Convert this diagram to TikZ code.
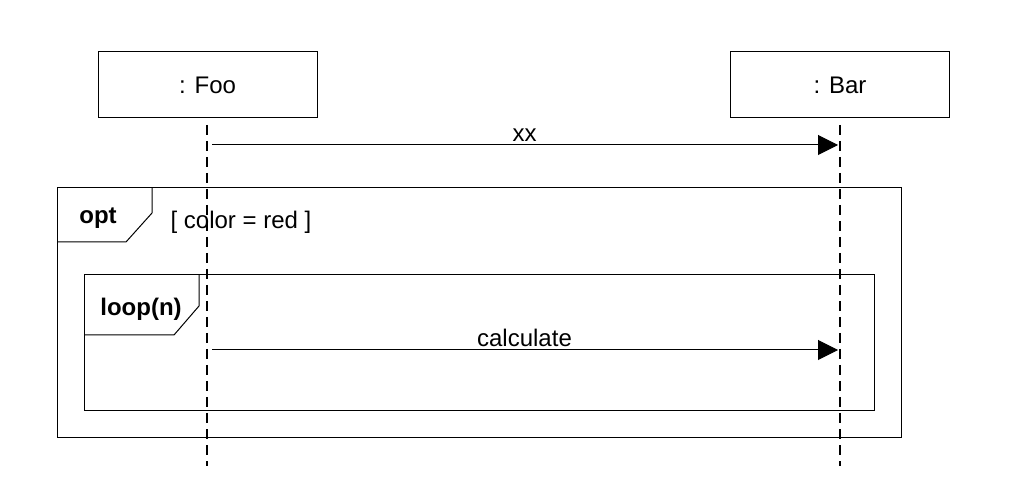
\documentclass[tikz,border=0pt]{standalone}
\usepackage{fontspec}
\setmainfont{Liberation Sans}
\usepackage{tikz}
\usetikzlibrary{arrows.meta}
\usetikzlibrary{calc}
\tikzset{obj/.style={draw, line width=0.5pt, minimum width=109.5pt, minimum height=33pt, font=\fontsize{12}{12}\selectfont}}
\tikzset{lbl/.style={font=\fontsize{12}{12}\selectfont}}
\tikzset{blbl/.style={font=\fontsize{12}{12}\selectfont\bfseries}}
\tikzset{
lifeline/.style={line width=0.75pt, dash pattern=on 5pt off 3pt}, msg/.style={line width=0.5pt, -{Triangle[length=10pt,width=10pt]}, shorten >=-0.5pt}, frm/.style={line width=0.5pt}
}
\begin{document}
\begin{tikzpicture}[x=0.5pt,y=-0.5pt]
    \useasboundingbox (0,0) rectangle (1034,502);
    % objects
    \node[obj] (foo) at (207.5,85) {: Foo};
    \node[obj] (bar) at (840,85) {: Bar};
    \coordinate (F1) at (207,125);
    \coordinate (F2) at (207,466);
    \coordinate (B1) at (840,125);
    \coordinate (B2) at (840,466);
    \draw[lifeline] (F1) -- (F2);
    \draw[lifeline] (B1) -- (B2);
    % opt frame
    \draw[frm] (57,188) rectangle (901,437);
    \draw[frm] (57,242) -- (126,242) -- (152,213) -- (152,188);
    \node[blbl] (opt) at (98,218) {opt};
    \node[lbl] (guard) at (241,222) {[ color = red ]};
    % loop frame
    \draw[frm] (84,275) rectangle (874,410);
    \draw[frm] (84,335) -- (174,335) -- (199,306) -- (199,275);
    \node[blbl] (loop) at (141,309) {loop(n)};
    % messages
    \coordinate (A) at (212,145);
    \coordinate (B) at (837,145);
    \coordinate (C) at (212,350);
    \coordinate (D) at (837,350);
    \draw[msg] (A) -- node [lbl, above, pos=0.5, inner sep=1.5pt] {xx} (B);
    \draw[msg] (C) -- node [lbl, above, pos=0.5, inner sep=1.5pt] {calculate} (D);
\end{tikzpicture}
\end{document}
